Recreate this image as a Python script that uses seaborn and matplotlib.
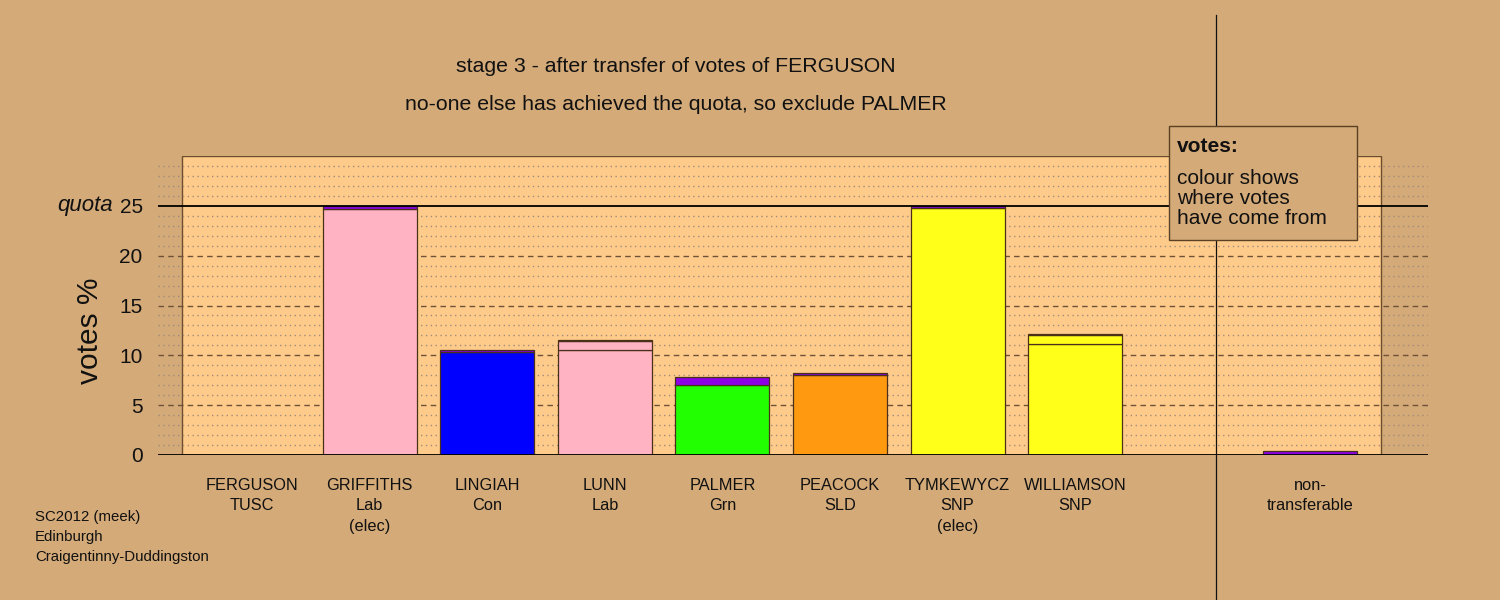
import matplotlib
matplotlib.use("Agg")
import matplotlib.pyplot as plt
import seaborn as sns
import pandas as pd
import numpy as np
from matplotlib.patches import Rectangle
from matplotlib.lines import Line2D

# ---------------- data ----------------
names = ["FERGUSON", "GRIFFITHS", "LINGIAH", "LUNN", "PALMER", "PEACOCK",
         "TYMKEWYCZ", "WILLIAMSON", "non-"]
parties = ["TUSC", "Lab", "Con", "Lab", "Grn", "SLD", "SNP", "SNP", "transferable"]
status = ["", "(elec)", "", "", "", "", "(elec)", "", ""]
positions = [0, 1, 2, 3, 4, 5, 6, 7, 9]

own_votes = [0.0, 24.7, 10.35, 10.54, 7.03, 8.03, 24.8, 11.14, 0.0]
from_running_mate = [0.0, 0.0, 0.0, 0.9, 0.0, 0.0, 0.0, 0.9, 0.0]
from_ferguson = [0.0, 0.3, 0.15, 0.1, 0.83, 0.15, 0.2, 0.1, 0.36]

quota = 25
yticks = [0, 5, 10, 15, 20, 25]

title1 = "stage 3 - after transfer of votes of FERGUSON"
title2 = "no-one else has achieved the quota, so exclude PALMER"
footer = ["SC2012 (meek)", "Edinburgh", "Craigentinny-Duddingston"]
legend_title = "votes:"
legend_lines = ["colour shows", "where votes", "have come from"]

# ---------------- colours ----------------
BG = "#D4AA78"
PANEL = "#FFCB8B"
PINK = "#FFB3C3"
BLUE = "#0000FF"
GREEN = "#22FF00"
ORANGE = "#FF9910"
YELLOW = "#FFFF1A"
PURPLE = "#8C00E6"
EDGE = "#4a3018"

own_colors = [PURPLE, PINK, BLUE, PINK, GREEN, ORANGE, YELLOW, YELLOW, PURPLE]
mate_colors = [PURPLE, PINK, BLUE, PINK, GREEN, ORANGE, YELLOW, YELLOW, PURPLE]
ferg_colors = [PURPLE] * 9

df = pd.DataFrame({"pos": positions, "own": own_votes,
                   "mate": from_running_mate, "ferg": from_ferguson})

plt.rcParams["font.family"] = ["Liberation Sans", "DejaVu Sans"]

fig = plt.figure(figsize=(15, 6), dpi=100, facecolor=BG)
ax = fig.add_axes([158 / 1500, 145 / 600, 1270 / 1500, 299 / 600])
ax.patch.set_visible(False)

# panel
ax.add_patch(Rectangle((-0.6, 0), 10.2, 30, facecolor=PANEL, edgecolor="#6b4e2e",
                       lw=1.0, zorder=0.3))

# grid lines
for v in range(1, 30):
    if v % 5 == 0:
        if v == quota:
            continue
        ax.axhline(v, color="#6e5238", lw=1.0, ls=(0, (4, 3)), zorder=0.8)
    else:
        ax.axhline(v, color="#a08c78", lw=1.0, ls=(0, (1, 2.5)), zorder=0.8)

# stacked bars
bottom = np.zeros(len(df))
for li, (col, colors) in enumerate([("own", own_colors), ("mate", mate_colors),
                                    ("ferg", ferg_colors)]):
    n0 = len(ax.patches)
    sns.barplot(data=df, x="pos", y=col, native_scale=True, width=0.8,
                bottom=bottom.copy(), color=colors[0], saturation=1,
                edgecolor=EDGE, linewidth=0.9, errorbar=None, ax=ax)
    for j, (p, c) in enumerate(zip(ax.patches[n0:], colors)):
        p.set_facecolor(c)
        p.set_zorder(1.5)
        if p.get_height() == 0 and not (li == 0 and j == 0):
            p.set_visible(False)
    bottom = bottom + df[col].to_numpy()

# baseline and quota
ax.axhline(0, color="black", lw=1.3, zorder=3)
ax.axhline(quota, color="black", lw=1.3, zorder=3)

ax.set_xlim(-0.8, 10.0)
ax.set_ylim(0, 30)
for s in ax.spines.values():
    s.set_visible(False)
ax.set_xticks([])
ax.set_xlabel("")
ax.set_ylabel("")
ax.set_yticks(yticks, labels=[str(t) for t in yticks])
ax.tick_params(axis="y", length=0, pad=11, labelsize=15, labelcolor="#111111")

# x labels
tr = ax.get_xaxis_transform()
for p, n, pa, st in zip(positions, names, parties, status):
    for i, t in enumerate([n, pa, st]):
        if t:
            ax.text(p, -(30 + 21 * i) / 299, t, transform=tr, ha="center",
                    va="center", fontsize=11.8, color="#111111", clip_on=False)

# texts
fig.text(113 / 1500, 1 - 206 / 600, "quota", ha="right", va="center",
         fontsize=16, style="italic", color="#111111")
fig.text(90 / 1500, 1 - 331 / 600, "votes %", rotation=90, ha="center",
         va="center", fontsize=21.5, color="#111111")
fig.text(676 / 1500, 1 - 66 / 600, title1, ha="center", va="center",
         fontsize=15.3, color="#111111")
fig.text(676 / 1500, 1 - 104 / 600, title2, ha="center", va="center",
         fontsize=15.3, color="#111111")
for i, t in enumerate(footer):
    fig.text(35 / 1500, 1 - (517 + 20 * i) / 600, t, ha="left", va="center",
             fontsize=10.8, color="#111111")

# vertical divider
fig.add_artist(Line2D([1216 / 1500] * 2, [0, 1 - 15 / 600],
                      transform=fig.transFigure, color="#111111", lw=0.9, zorder=3))

# legend box
fig.add_artist(Rectangle((1169 / 1500, 1 - 240 / 600), 188 / 1500, 114 / 600,
                         transform=fig.transFigure, facecolor=BG,
                         edgecolor="#5a4025", lw=1.0, zorder=5))
fig.text(1177 / 1500, 1 - 146 / 600, legend_title, ha="left", va="center",
         fontsize=15, fontweight="bold", color="#111111", zorder=6)
for i, t in enumerate(legend_lines):
    fig.text(1177 / 1500, 1 - (178 + 20.5 * i) / 600, t, ha="left", va="center",
             fontsize=15, color="#111111", zorder=6)

fig.savefig("out.png", dpi=100, facecolor=BG)
